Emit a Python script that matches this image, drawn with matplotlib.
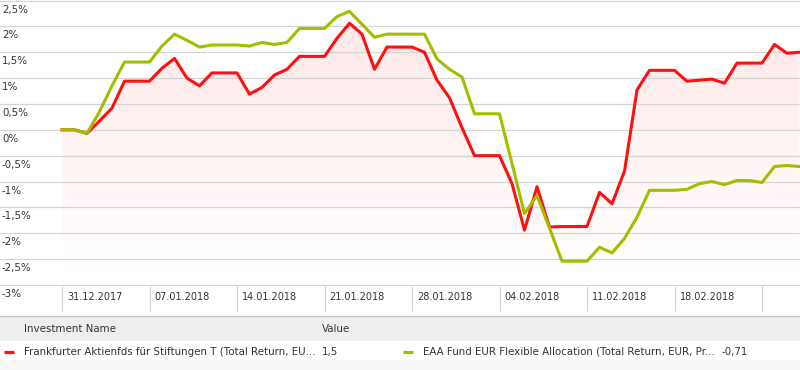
import numpy as np
import matplotlib
matplotlib.use("Agg")
import matplotlib.pyplot as plt
import matplotlib.dates as mdates
import matplotlib.transforms as mtransforms
from matplotlib.patches import Rectangle

# daily values 31.12.2017 - 28.02.2018, cumulative return in %
dates = np.arange(np.datetime64("2017-12-31"), np.datetime64("2018-03-01"))
frankfurter = [0.0, 0.0, -0.07, 0.17, 0.42, 0.94, 0.94, 0.94, 1.19, 1.38,
               1.0, 0.85, 1.1, 1.1, 1.1, 0.69, 0.82, 1.06, 1.17, 1.42,
               1.42, 1.42, 1.77, 2.06, 1.85, 1.17, 1.6, 1.6, 1.6, 1.5,
               0.96, 0.62, 0.04, -0.5, -0.5, -0.5, -1.04, -1.94, -1.1, -1.88,
               -1.87, -1.87, -1.87, -1.21, -1.43, -0.8, 0.77, 1.15, 1.15, 1.15,
               0.94, 0.96, 0.98, 0.9, 1.29, 1.29, 1.29, 1.65, 1.48, 1.5]
eaa_flex = [0.0, 0.0, -0.07, 0.35, 0.85, 1.31, 1.31, 1.31, 1.62, 1.85,
            1.73, 1.6, 1.64, 1.64, 1.64, 1.62, 1.69, 1.65, 1.69, 1.96,
            1.96, 1.96, 2.19, 2.29, 2.04, 1.79, 1.85, 1.85, 1.85, 1.85,
            1.37, 1.17, 1.02, 0.31, 0.31, 0.31, -0.65, -1.62, -1.27, -1.9,
            -2.54, -2.54, -2.54, -2.27, -2.38, -2.1, -1.69, -1.17, -1.17, -1.17,
            -1.15, -1.04, -1.0, -1.06, -0.98, -0.98, -1.02, -0.71, -0.69, -0.71]

names = ["Frankfurter Aktienfds für Stiftungen T (Total Return, EU...",
         "EAA Fund EUR Flexible Allocation (Total Return, EUR, Pr..."]
last_values = ["1,5", "-0,71"]
y_ticks = np.arange(-3, 2.51, 0.5)

RED = "#ff1010"
GREEN = "#a3bd00"
GRID = "#d4d4d4"
TXT = "#333333"
FS = 7
FS_TAB = 7.4

x = mdates.date2num(dates)

fig = plt.figure(figsize=(8, 3.7), dpi=100)

# table / legend area, drawn in pixel coordinates
tab = fig.add_axes([0, 0, 1, 1], zorder=0)
tab.set_xlim(0, 800)
tab.set_ylim(370, 0)
tab.axis("off")
tab.axhline(316, color="#c6c6c6", lw=1)
tab.add_patch(Rectangle((0, 317), 800, 24, color="#eeeeee", lw=0))
tab.add_patch(Rectangle((0, 360), 800, 10, color="#f8f8f8", lw=0))
tab.text(24, 329, "Investment Name", fontsize=FS_TAB, color=TXT, va="center")
tab.text(322, 329, "Value", fontsize=FS_TAB, color=TXT, va="center")
tab.plot([4, 14], [352, 352], color=RED, lw=2.3, solid_capstyle="butt")
tab.plot([403, 413], [352, 352], color=GREEN, lw=2.3, solid_capstyle="butt")
tab.text(24, 352, names[0], fontsize=FS_TAB, color=TXT, va="center")
tab.text(322, 352, last_values[0], fontsize=FS_TAB, color=TXT, va="center")
tab.text(423, 352, names[1], fontsize=FS_TAB, color=TXT, va="center")
tab.text(721, 352, last_values[1], fontsize=FS_TAB, color=TXT, va="center")

# main chart
ax = fig.add_axes([0, 84 / 370, 1, 286 / 370], zorder=1)
ax.patch.set_alpha(0)
for s in ax.spines.values():
    s.set_visible(False)

# pink gradient under the first series
fill = ax.fill_between(x, frankfurter, -3, color="none", lw=0)
alpha = np.linspace(0.0, 0.095, 256)
grad = np.zeros((256, 1, 4))
grad[..., 0] = 1.0
grad[..., 3] = alpha[:, None]
im = ax.imshow(grad, extent=[x[0], x[-1], -3, 2.1], origin="lower",
               aspect="auto", zorder=0.5)
im.set_clip_path(fill.get_paths()[0], transform=ax.transData)

ax.plot(x, frankfurter, color=RED, lw=2.2, zorder=3)
ax.plot(x, eaa_flex, color=GREEN, lw=2.2, zorder=3)

ax.set_xlim(x[0] - 4.96, x[-1] + 0.04)
ax.set_ylim(-3.02, 2.51)
ax.set_yticks(y_ticks)
ax.grid(axis="y", color=GRID, lw=0.9)
ax.tick_params(axis="y", length=0, labelleft=False)

week_ticks = x[::7]
ax.set_xticks(week_ticks)
ax.tick_params(axis="x", direction="out", length=18, width=0.9, color=GRID,
               labelbottom=False)

# y labels sit just under their gridline at the left edge
ylab_tr = mtransforms.blended_transform_factory(ax.transAxes, ax.transData) + \
    mtransforms.ScaledTranslation(0, -9 / 100, fig.dpi_scale_trans)
for v in y_ticks:
    lab = ("%g" % v).replace(".", ",") + "%"
    ax.text(2 / 800, v, lab, transform=ylab_tr, fontsize=7.4, color=TXT,
            va="center", ha="left")

# date labels to the right of each weekly separator
xlab_tr = mtransforms.blended_transform_factory(ax.transData, ax.transAxes) + \
    mtransforms.ScaledTranslation(5 / 100, -11 / 100, fig.dpi_scale_trans)
for d, xi in zip(dates[::7][:8], week_ticks[:8]):
    lab = d.astype(object).strftime("%d.%m.%Y")
    ax.text(xi, 0, lab, transform=xlab_tr, fontsize=FS, color=TXT,
            va="center", ha="left")

fig.savefig("out.png", dpi=100)
